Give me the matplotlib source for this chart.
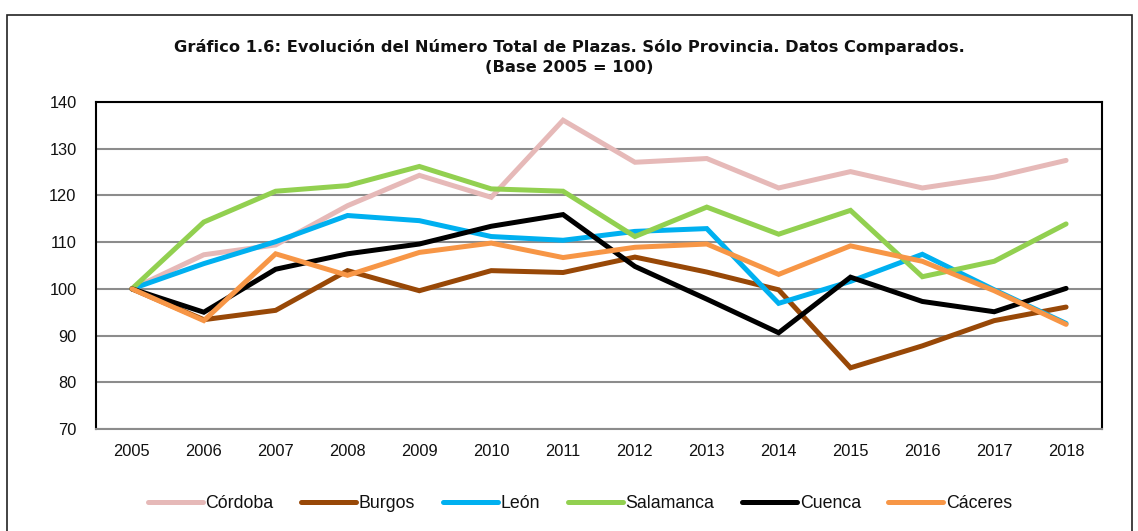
import matplotlib
matplotlib.use("Agg")
import matplotlib.pyplot as plt
from matplotlib.patches import Rectangle

years = [str(y) for y in range(2005, 2019)]
cordoba = [100, 107.3, 109.4, 117.8, 124.3, 119.6, 136.1, 127.1, 127.9, 121.6, 125.1, 121.6, 123.9, 127.5]
burgos = [100, 93.4, 95.4, 103.9, 99.6, 103.9, 103.5, 106.8, 103.6, 99.8, 83.1, 87.8, 93.2, 96.1]
leon = [100, 105.4, 110.1, 115.7, 114.6, 111.2, 110.4, 112.3, 112.9, 96.9, 101.6, 107.4, 99.8, 92.6]
salamanca = [100, 114.3, 120.9, 122.1, 126.2, 121.4, 120.9, 111.2, 117.5, 111.7, 116.8, 102.6, 105.9, 113.9]
cuenca = [100, 95.0, 104.2, 107.5, 109.6, 113.4, 115.9, 104.8, 97.8, 90.6, 102.5, 97.3, 95.1, 100.1]
caceres = [100, 93.2, 107.5, 102.9, 107.8, 109.8, 106.7, 108.9, 109.6, 103.1, 109.2, 105.9, 99.6, 92.4]

series_names = ["Córdoba", "Burgos", "León", "Salamanca", "Cuenca", "Cáceres"]
series_vals = [cordoba, burgos, leon, salamanca, cuenca, caceres]
colors = ["#E6B9B8", "#984807", "#00B0F0", "#92D050", "#000000", "#F79646"]
yticks = [70, 80, 90, 100, 110, 120, 130, 140]

title = "Gráfico 1.6: Evolución del Número Total de Plazas. Sólo Provincia. Datos Comparados.\n(Base 2005 = 100)"

W, H = 1138, 531
fig = plt.figure(figsize=(W / 100, H / 100), dpi=100)
fig.patch.set_facecolor("white")

# outer frame
fig.add_artist(Rectangle((7 / W, -0.05), (1132 - 7) / W, 1.05 - 15 / H,
                         transform=fig.transFigure, fill=False,
                         edgecolor="#222222", linewidth=1.2))

ax = fig.add_axes([96 / W, 1 - 429 / H, (1102 - 96) / W, (429 - 102) / H])
x = list(range(len(years)))
for name, vals, c in zip(series_names, series_vals, colors):
    ax.plot(x, vals, color=c, linewidth=3.6, label=name, solid_capstyle="round",
            solid_joinstyle="miter")

ax.set_xlim(-0.5, len(years) - 0.5)
ax.set_ylim(70, 140)
ax.set_yticks(yticks)
ax.set_xticks(x)
ax.set_xticklabels(years)
ax.yaxis.grid(True, color="#8C8C8C", linewidth=1.5)
ax.set_axisbelow(True)
ax.tick_params(axis="both", length=0, labelsize=11.8)
ax.tick_params(axis="y", pad=14)
ax.tick_params(axis="x", pad=11)
for lab in ax.get_xticklabels() + ax.get_yticklabels():
    lab.set_family(["Liberation Sans", "DejaVu Sans"])
    lab.set_color("#111111")
for s in ["left", "top", "right"]:
    ax.spines[s].set_color("black")
    ax.spines[s].set_linewidth(1.5)
ax.spines["bottom"].set_color("#8C8C8C")
ax.spines["bottom"].set_linewidth(1.5)

fig.text(0.5, 1 - 57 / H, title, ha="center", va="center", fontsize=11.7,
         fontweight="bold", family=["DejaVu Sans"],
         linespacing=1.4, color="#111111")

leg = fig.legend(loc="center", bbox_to_anchor=(0.5 + 11 / W, 1 - 504 / H), ncol=6,
                 frameon=False, handlelength=3.1, handletextpad=0.15,
                 columnspacing=1.55,
                 prop={"family": ["Liberation Sans", "DejaVu Sans"], "size": 12.8})
for t in leg.get_texts():
    t.set_color("#111111")

fig.savefig("out.png", dpi=100)
